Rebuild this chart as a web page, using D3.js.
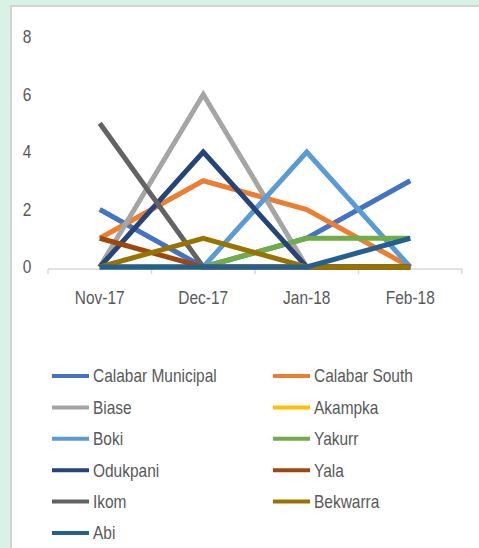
<!DOCTYPE html>
<html>
<head>
<meta charset="utf-8">
<script src="https://cdn.jsdelivr.net/npm/d3@7"></script>
<style>
  body { margin: 0; background: #daf2e5; }
  #chart-area { position: absolute; left: 0; top: 0; }
</style>
</head>
<body>
<div id="chart-area"></div>
<script>
// months on the x axis
let months = ["Nov-17", "Dec-17", "Jan-18", "Feb-18"];
let yTicks = [0, 2, 4, 6, 8];

let calabarMunicipal = [2, 0, 1, 3];
let calabarSouth = [1, 3, 2, 0];
let biase = [0, 6, 0, 0];
let akampka = [0, 0, 0, 0];
let boki = [0, 0, 4, 0];
let yakurr = [0, 0, 1, 1];
let odukpani = [0, 4, 0, 0];
let yala = [1, 0, 0, 0];
let ikom = [5, 0, 0, 0];
let bekwarra = [0, 1, 0, 0];
let abi = [0, 0, 0, 1];

let names = ["Calabar Municipal", "Calabar South", "Biase", "Akampka", "Boki", "Yakurr",
             "Odukpani", "Yala", "Ikom", "Bekwarra", "Abi"];
let values = [calabarMunicipal, calabarSouth, biase, akampka, boki, yakurr,
              odukpani, yala, ikom, bekwarra, abi];
let colors = ["#4472c4", "#ed7d31", "#a5a5a5", "#ffc000", "#5b9bd5", "#70ad47",
              "#264478", "#9e480e", "#636363", "#997300", "#255e91"];

let series = names.map(function(n, i){
    return {name: n, values: values[i], color: colors[i]};
});

let W = 479, H = 548;
let svg = d3.select("#chart-area")
        .append("svg")
        .attr("width", W)
        .attr("height", H);

// white panel with grey border
svg.append("rect")
    .attr("x", 11).attr("y", 6)
    .attr("width", W).attr("height", H)
    .attr("fill", "#fff")
    .attr("stroke", "#d4d4d4")
    .attr("stroke-width", 2);

let x = d3.scaleBand()
        .domain(months)
        .range([48, 462]);

let y = d3.scaleLinear()
        .domain([0, 8])
        .range([267, 37]);

let font = "'Liberation Sans', Arial, sans-serif";
let squeeze = 0.86; // narrow the text a bit, like Calibri

function label(g, tx, ty, txt, anchor){
    return g.append("g")
        .attr("transform", "translate(" + tx + "," + ty + ") scale(" + squeeze + ",1)")
        .append("text")
        .attr("dy", "0.35em")
        .attr("text-anchor", anchor)
        .attr("font-family", font)
        .attr("font-size", 18)
        .attr("fill", "#595959")
        .text(txt);
}

// y labels, no axis line
yTicks.forEach(function(t){
    label(svg, 27, y(t), t, "middle");
});

// x axis
let xAxis = svg.append("g")
    .attr("transform", "translate(0," + 269 + ")");
xAxis.append("line")
    .attr("x1", 48).attr("x2", 462)
    .attr("stroke", "#d9d9d9").attr("stroke-width", 1.5);
let tickPos = months.map(function(m){ return x(m); }).concat([x.range()[1]]);
xAxis.selectAll(".tick")
    .data(tickPos)
    .enter()
    .append("line")
    .attr("x1", function(d){ return d; })
    .attr("x2", function(d){ return d; })
    .attr("y1", 0).attr("y2", 5)
    .attr("stroke", "#d9d9d9").attr("stroke-width", 1.5);
months.forEach(function(m){
    label(xAxis, x(m) + x.bandwidth() / 2, 29, m, "middle");
});

let line = d3.line()
    .x(function(d, i){ return x(months[i]) + x.bandwidth() / 2; })
    .y(function(d){ return y(d); });

svg.selectAll(".series")
    .data(series)
    .enter()
    .append("path")
    .attr("d", function(d){ return line(d.values); })
    .attr("fill", "none")
    .attr("stroke", function(d){ return d.color; })
    .attr("stroke-width", 5)
    .attr("stroke-linejoin", "miter");

// legend, two columns
series.forEach(function(d, i){
    let col = i % 2, row = Math.floor(i / 2);
    let g = svg.append("g")
        .attr("transform", "translate(" + (col == 0 ? 52 : 273) + "," + (376 + row * 31.4) + ")");
    g.append("line")
        .attr("x1", 0).attr("x2", 37)
        .attr("stroke", d.color)
        .attr("stroke-width", 4);
    label(g, 41, 0, d.name, "start");
});
</script>
</body>
</html>
